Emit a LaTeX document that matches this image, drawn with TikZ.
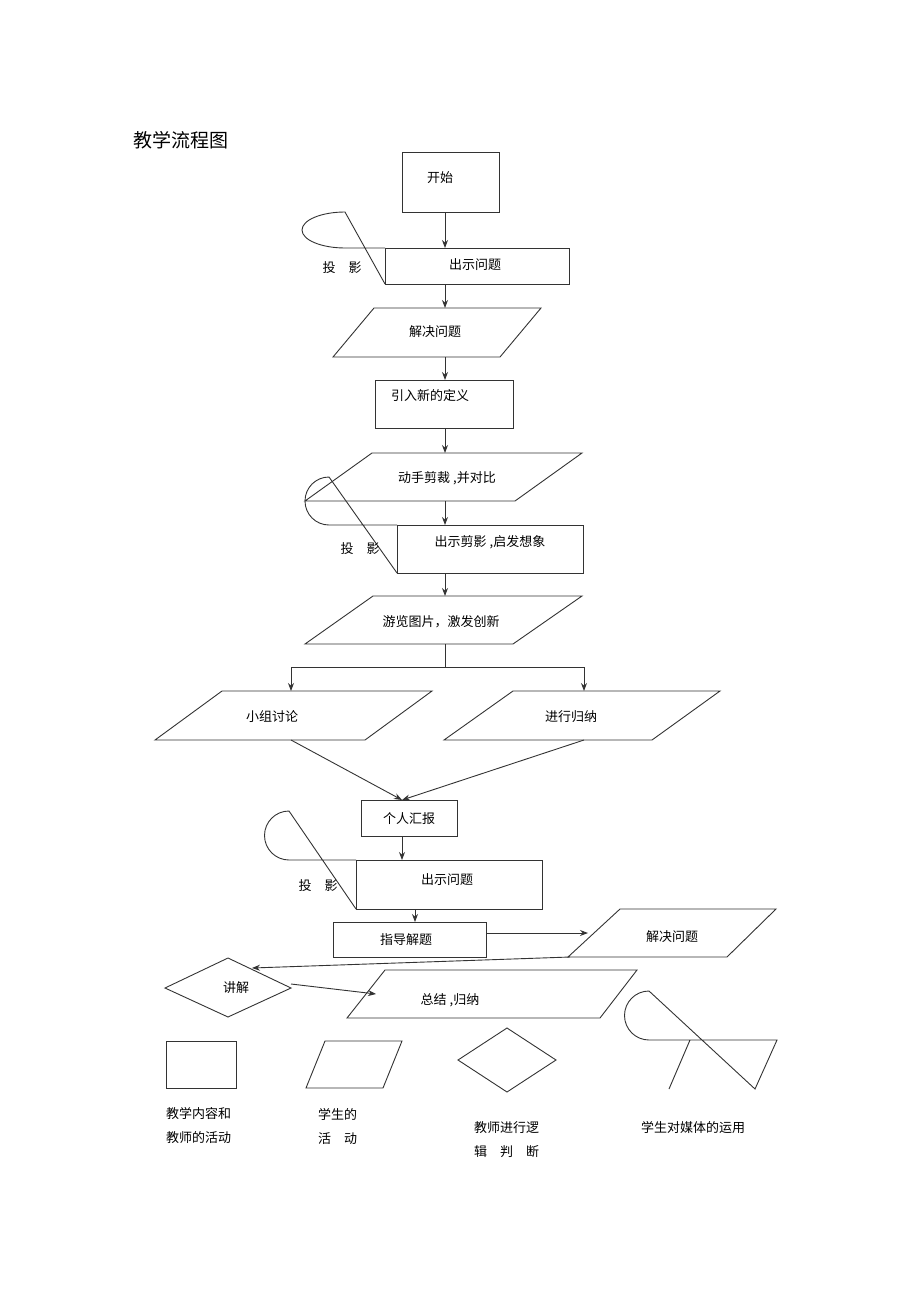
\documentclass[tikz,border=0pt]{standalone}
\usepackage{fontspec}
\newfontfamily\cjk{Noto Sans CJK SC}
\usetikzlibrary{arrows.meta}
\begin{document}
\begin{tikzpicture}[x=1pt,y=-1pt,
  every node/.style={font=\cjk\fontsize{13}{15}\selectfont,inner sep=0pt},
  ln/.style={draw=black!80,line width=0.9pt},
  ar/.style={ln,-{Stealth[length=8pt,width=6pt]}},
  lbl/.style={anchor=west,font=\cjk\fontsize{13}{24}\selectfont,align=left}]
\useasboundingbox (0,0) rectangle (920,1303);
\node[anchor=west,font=\cjk\fontsize{19}{22}\selectfont] (title) at (133,140) {教学流程图};
% start
\draw[ln] (402,152) rectangle (499,212);
\node (t0) at (440,178) {开始};
\coordinate (s0) at (445,212);
% media 1
\draw[ln] (385,248) rectangle (569,284);
\draw[ln] (385,248) -- (345,248) arc[start angle=90,end angle=270,x radius=43,y radius=18] -- (385,284);
\node (m1a) at (342,268) {投\quad 影};
\node (m1b) at (475,265) {出示问题};
\coordinate (m1t) at (445,248); \coordinate (m1d) at (445,284);
% para 1
\draw[ln] (374,308) -- (541,308) -- (500,357) -- (333,357) -- cycle;
\node (p1) at (435,332) {解决问题};
\coordinate (p1t) at (445,308); \coordinate (p1d) at (445,357);
% rect
\draw[ln] (375,380) rectangle (513,428);
\node (r1) at (430,396) {引入新的定义};
\coordinate (r1t) at (445,380); \coordinate (r1d) at (445,428);
% para 2
\draw[ln] (372,453) -- (582,453) -- (515,501) -- (305,501) -- cycle;
\node (p2) at (447,478) {动手剪裁 ,并对比};
\coordinate (p2t) at (445,453); \coordinate (p2d) at (445,501);
% media 2
\draw[ln] (397,525) rectangle (583,573);
\draw[ln] (397,525) -- (329,525) arc[start angle=90,end angle=270,radius=24] -- (397,573);
\node (m2a) at (360,549) {投\quad 影};
\node (m2b) at (490,542) {出示剪影 ,启发想象};
\coordinate (m2t) at (445,525); \coordinate (m2d) at (445,573);
% para 3
\draw[ln] (373,596) -- (582,596) -- (513,644) -- (305,644) -- cycle;
\node (p3) at (441,622) {游览图片，激发创新};
\coordinate (p3t) at (445,596); \coordinate (p3d) at (445,644);
% split
\coordinate (sp) at (445,667); \coordinate (spl) at (291,667); \coordinate (spr) at (584,667);
\draw[ln] (p3d) -- (sp); \draw[ln] (spl) -- (spr);
% para L / R
\draw[ln] (222,691) -- (432,691) -- (365,740) -- (155,740) -- cycle;
\node (pl) at (272,717) {小组讨论};
\draw[ln] (513,691) -- (720,691) -- (652,740) -- (444,740) -- cycle;
\node (pr) at (571,717) {进行归纳};
\coordinate (plt) at (291,691); \coordinate (prt) at (584,691);
\coordinate (pld) at (291,740); \coordinate (prd) at (584,740);
\draw[ar] (spl) -- (plt); \draw[ar] (spr) -- (prt);
% personal report
\draw[ln] (361,800) rectangle (457,836);
\node (r2) at (409,819) {个人汇报};
\coordinate (r2t) at (402,800); \coordinate (r2d) at (402,836);
\draw[ar] (pld) -- (r2t); \draw[ar] (prd) -- (r2t);
% media 3
\draw[ln] (356,860) rectangle (542,909);
\draw[ln] (356,860) -- (289,860) arc[start angle=90,end angle=270,radius=24.5] -- (356,909);
\node (m3a) at (318,886) {投\quad 影};
\node (m3b) at (447,880) {出示问题};
\coordinate (m3t) at (402,860); \coordinate (m3d) at (415,909);
% guide
\draw[ln] (333,922) rectangle (486,957);
\node (r3) at (406,940) {指导解题};
\coordinate (r3t) at (415,922); \coordinate (r3r) at (486,933);
% para 4
\draw[ln] (620,909) -- (776,909) -- (727,957) -- (568,957) -- cycle;
\node (p4) at (672,937) {解决问题};
\coordinate (p4l) at (588,933); \coordinate (p4bl) at (570,957);
% diamond
\draw[ln] (228,958) -- (291,988) -- (228,1017) -- (165,988) -- cycle;
\node (d1) at (236,988) {讲解};
\coordinate (d1t) at (252,968); \coordinate (d1r) at (291,984);
% para 5
\draw[ln] (385,970) -- (637,970) -- (600,1018) -- (347,1018) -- cycle;
\node (p5) at (450,1000) {总结 ,归纳};
\coordinate (p5l) at (376,994);
% arrows
\draw[ar] (s0) -- (m1t);
\draw[ar] (m1d) -- (p1t);
\draw[ar] (p1d) -- (r1t);
\draw[ar] (r1d) -- (p2t);
\draw[ar] (p2d) -- (m2t);
\draw[ar] (m2d) -- (p3t);
\draw[ar] (r2d) -- (m3t);
\draw[ar] (m3d) -- (r3t);
\draw[ar] (r3r) -- (p4l);
\draw[ar] (p4bl) -- (d1t);
\draw[ar] (d1r) -- (p5l);
% legend
\draw[ln] (166,1041) rectangle (236,1088);
\draw[ln] (325,1041) -- (402,1041) -- (383,1088) -- (306,1088) -- cycle;
\draw[ln] (507,1028) -- (556,1060) -- (507,1092) -- (458,1060) -- cycle;
\draw[ln] (690,1040) -- (649,1040) arc[start angle=90,end angle=270,radius=24.5] -- (755,1089) -- (777,1040) -- (690,1040) -- (669,1089);
\node[lbl] (l1) at (166,1126) {教学内容和\\教师的活动};
\node[lbl] (l2) at (318,1126) {学生的\\活\quad 动};
\node[lbl] (l3) at (474,1140) {教师进行逻\\辑\quad 判\quad 断};
\node[lbl] (l4) at (641,1128) {学生对媒体的运用};
\end{tikzpicture}
\end{document}
